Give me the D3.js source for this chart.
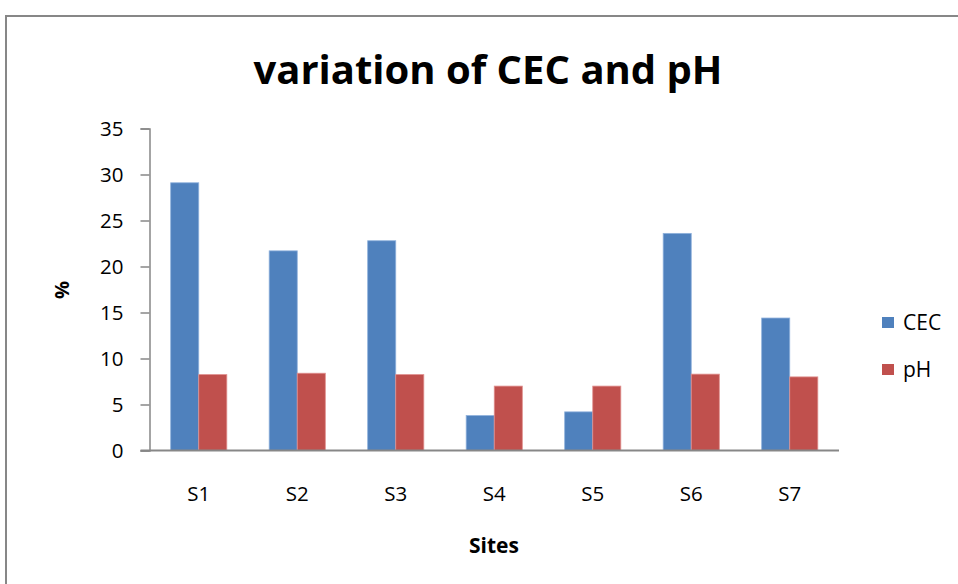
<!DOCTYPE html>
<html>
<head>
<meta charset="utf-8">
<script src="https://cdn.jsdelivr.net/npm/d3@7"></script>
<style>
  html, body { margin: 0; padding: 0; background: #fff; }
  svg { display: block; }
  text { font-family: "Open Sans", "Liberation Sans", sans-serif; fill: #000; }
</style>
</head>
<body>
<svg id="chart" width="958" height="584"></svg>
<script>
// Soil measurements per site
const sites = ["S1", "S2", "S3", "S4", "S5", "S6", "S7"];
const seriesNames = ["CEC", "pH"];
const cecValues = [29.1, 21.7, 22.8, 3.8, 4.2, 23.6, 14.4];
const phValues = [8.25, 8.4, 8.25, 7.0, 7.0, 8.3, 8.0];
const yTicks = [0, 5, 10, 15, 20, 25, 30, 35];
const colors = ["#4F81BD", "#C0504D"];

const rows = sites.map((s, i) => ({ site: s, values: [cecValues[i], phValues[i]] }));

const svg = d3.select("#chart");

// Outer chart frame (runs past the right and bottom edges of the view)
svg.append("rect")
  .attr("x", 6).attr("y", 16)
  .attr("width", 1000).attr("height", 700)
  .attr("fill", "#fff")
  .attr("stroke", "#878787")
  .attr("stroke-width", 2);

const plot = { left: 149.5, right: 839, top: 128.5, bottom: 450.5 };

const x = d3.scaleBand().domain(sites).range([plot.left, plot.right]).paddingInner(0.43).paddingOuter(0.215);
const xs = d3.scaleBand().domain(seriesNames).range([0, x.bandwidth()]);
const y = d3.scaleLinear().domain([0, 35]).range([plot.bottom, plot.top]);

// Bars
const groups = svg.append("g").selectAll("g").data(rows).join("g")
  .attr("transform", d => `translate(${x(d.site)},0)`);
groups.selectAll("rect").data(d => d.values.map((v, k) => ({ k, v }))).join("rect")
  .attr("x", d => xs(seriesNames[d.k]))
  .attr("y", d => y(d.v))
  .attr("width", xs.bandwidth())
  .attr("height", d => y(0) - y(d.v))
  .attr("fill", d => colors[d.k])
  .attr("stroke", d => d.k === 0 ? "#8fb1dc" : "#e0908e")
  .attr("stroke-width", 0.8);

// Y axis
const yAxis = svg.append("g")
  .attr("transform", `translate(${plot.left},0)`)
  .call(d3.axisLeft(y).tickValues(yTicks).tickSize(9).tickPadding(17));
yAxis.select(".domain").attr("stroke", "#878787").attr("stroke-width", 1.5);
yAxis.selectAll(".tick line").attr("stroke", "#878787").attr("stroke-width", 1.5);
yAxis.selectAll(".tick text").attr("font-size", 20.5).attr("font-family", "Open Sans").attr("fill", "#000");

// X axis baseline
const xAxis = svg.append("g")
  .attr("transform", `translate(0,${plot.bottom})`)
  .call(d3.axisBottom(x).tickSize(0).tickPadding(36));
xAxis.select(".domain").attr("stroke", "#878787").attr("stroke-width", 2)
  .attr("d", `M${plot.left - 9},0H${plot.right}`);
xAxis.selectAll(".tick text").attr("font-size", 20.5).attr("font-family", "Open Sans").attr("fill", "#000");

// Title
svg.append("text")
  .attr("x", 488).attr("y", 84)
  .attr("text-anchor", "middle")
  .attr("font-size", 40).attr("font-weight", "bold")
  .text("variation of CEC and pH");

// Axis titles
svg.append("text")
  .attr("transform", "translate(69,290) rotate(-90)")
  .attr("text-anchor", "middle")
  .attr("font-size", 20).attr("font-weight", "bold")
  .text("%");
svg.append("text")
  .attr("x", 494).attr("y", 553)
  .attr("text-anchor", "middle")
  .attr("font-size", 21).attr("font-weight", "bold")
  .text("Sites");

// Legend
const legend = svg.append("g").selectAll("g").data(seriesNames).join("g")
  .attr("transform", (d, i) => `translate(882,${317 + i * 47})`);
legend.append("rect").attr("width", 12).attr("height", 11).attr("fill", (d, i) => colors[i]);
legend.append("text").attr("x", 21).attr("y", 12.5)
  .attr("font-size", 21).text(d => d);
</script>
</body>
</html>
